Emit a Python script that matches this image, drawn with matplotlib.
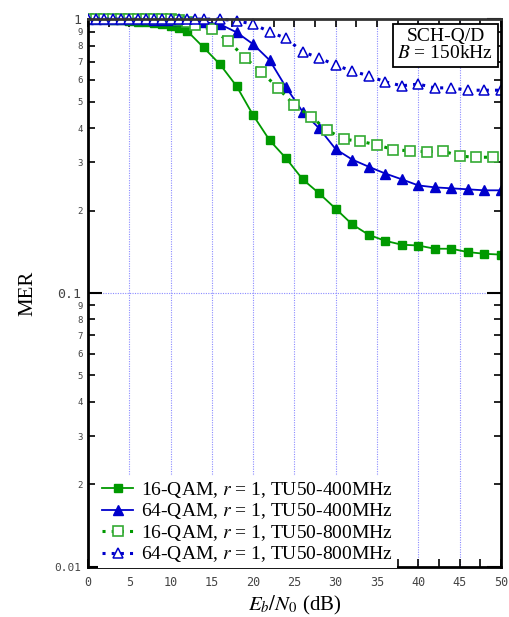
import matplotlib
matplotlib.use("Agg")
import matplotlib.pyplot as plt
from matplotlib.ticker import FixedLocator, FixedFormatter, MultipleLocator
from matplotlib.patches import Rectangle

plt.rcParams['mathtext.fontset'] = 'stix'
plt.rcParams['font.family'] = ['Liberation Serif', 'DejaVu Serif']

# ---- data ----
x_16_400 = list(range(0, 13)) + list(range(14, 51, 2))
y_16_400 = [1.0, 1.0, 1.0, 0.995, 0.99, 0.985, 0.98, 0.975, 0.968, 0.956, 0.945, 0.930, 0.906,
            0.788, 0.683, 0.569, 0.446, 0.361, 0.310, 0.260, 0.231, 0.203, 0.178, 0.163,
            0.155, 0.150, 0.149, 0.145, 0.145, 0.141, 0.139, 0.138]

x_64_400 = list(range(0, 15)) + list(range(16, 51, 2))
y_64_400 = [1.0, 1.0, 1.0, 1.0, 1.0, 1.0, 0.998, 0.997, 0.995, 0.993, 0.99, 0.99, 0.988, 0.985, 0.975,
            0.957, 0.895, 0.810, 0.708, 0.563, 0.459, 0.399, 0.335, 0.307, 0.289, 0.273,
            0.260, 0.247, 0.243, 0.241, 0.239, 0.237, 0.237]

x_16_800 = list(range(0, 14)) + list(range(15, 52, 2))
y_16_800 = [1.0, 1.0, 1.0, 1.0, 1.0, 1.0, 1.0, 1.0, 1.0, 1.0, 1.0, 0.995, 0.975, 0.951,
            0.917, 0.833, 0.722, 0.642, 0.561, 0.485, 0.440, 0.393, 0.364, 0.358, 0.347,
            0.334, 0.330, 0.328, 0.330, 0.316, 0.313, 0.313, 0.311]

x_64_800 = list(range(0, 15)) + list(range(16, 51, 2))
y_64_800 = [1.0] * 15 + [1.0, 0.986, 0.959, 0.899, 0.850, 0.759, 0.722, 0.679, 0.646, 0.621,
                         0.590, 0.571, 0.579, 0.561, 0.561, 0.550, 0.550, 0.550]

labels = ["16-QAM, $r$ = 1, TU50-400MHz", "64-QAM, $r$ = 1, TU50-400MHz",
          "16-QAM, $r$ = 1, TU50-800MHz", "64-QAM, $r$ = 1, TU50-800MHz"]

y_major = [0.01, 0.1, 1.0]
y_major_labels = ["0.01", "0.1", "1"]
x_major = [0, 5, 10, 15, 20, 25, 30, 35, 40, 45, 50]

# ---- figure ----
fig = plt.figure(figsize=(5.10, 6.17), dpi=100)
ax = fig.add_axes([0.1725, 0.0815, 0.8095, 0.8875])

green = '#009900'
lgreen = '#33aa33'
blue = '#0000cc'
dot = (0, (1, 2))

lines = []
lines += ax.plot(x_16_400, y_16_400, '-', color=green, lw=1.3, marker='s', ms=6,
                 mfc=green, mec=green, label=labels[0])
lines += ax.plot(x_64_400, y_64_400, '-', color=blue, lw=1.3, marker='^', ms=7,
                 mfc=blue, mec=blue, label=labels[1])
lines += ax.plot(x_16_800, y_16_800, linestyle=dot, color=green, lw=2.2, marker='s', ms=6.5,
                 mfc='white', mec=lgreen, mew=1.2, label=labels[2])
lines += ax.plot(x_64_800, y_64_800, linestyle=dot, color=blue, lw=2.2, marker='^', ms=7,
                 mfc='white', mec=blue, mew=1.1, label=labels[3])
for ln in lines:
    ln.set_clip_path(Rectangle((0, -0.05), 1.0, 1.1, transform=ax.transAxes))

ax.set_yscale('log')
ax.set_xlim(0, 50)
ax.set_ylim(0.01, 1.0)

# grid lines
for xv in x_major[1:-1]:
    ax.axvline(xv, color='#8c8cff', lw=0.8, linestyle=(0, (1, 1.2)), zorder=0)
ax.axhline(0.1, color='#8c8cff', lw=0.8, linestyle=(0, (1, 1.2)), zorder=0)

# ticks
ax.xaxis.set_major_locator(FixedLocator(x_major))
ax.xaxis.set_minor_locator(MultipleLocator(2.5))
ax.yaxis.set_major_locator(FixedLocator(y_major))
ax.yaxis.set_major_formatter(FixedFormatter(y_major_labels))
minor_vals = []
minor_labels = []
for dec in [0.01, 0.1]:
    for m in range(2, 10):
        minor_vals.append(dec * m)
        minor_labels.append(str(m))
ax.yaxis.set_minor_locator(FixedLocator(minor_vals))
ax.yaxis.set_minor_formatter(FixedFormatter(minor_labels))

tick_color = '#444444'
ax.tick_params(axis='both', which='both', direction='in', top=True, right=True, color='black')
ax.tick_params(axis='x', which='both', length=6, width=1.2, pad=7, labelsize=8.5,
               labelcolor=tick_color)
ax.tick_params(axis='y', which='major', length=10, width=1.5, pad=5, labelsize=9.5,
               labelcolor=tick_color)
ax.tick_params(axis='y', which='minor', length=5, width=1.2, pad=4, labelsize=6.5,
               labelcolor=tick_color)
for lab in ax.get_xticklabels() + ax.get_yticklabels() + ax.get_yticklabels(minor=True):
    lab.set_family('DejaVu Sans Mono')
ax.get_yticklabels()[0].set_fontsize(8)

for sp in ax.spines.values():
    sp.set_linewidth(2.0)
    sp.set_color('black')
ax.spines['top'].set_color('#333333')

ax.set_ylabel('MER', fontsize=15, labelpad=12)
ax.set_xlabel('$E_b/N_0$ (dB)', fontsize=15, labelpad=3)

leg = ax.legend(loc='lower left', bbox_to_anchor=(0.025, -0.003), fontsize=14,
                frameon=True, fancybox=False, edgecolor='none', facecolor='white',
                framealpha=1.0, handlelength=1.6, handletextpad=0.4, labelspacing=0.08,
                borderpad=0.2, borderaxespad=0.0)

ax.text(0.982, 0.983, 'SCH-Q/D\n$B$ = 150kHz', transform=ax.transAxes, ha='right', va='top',
        fontsize=14, multialignment='center', linespacing=1.0,
        bbox=dict(boxstyle='square,pad=0.25', facecolor='white', edgecolor='black', lw=1.3))

fig.savefig('out.png', dpi=100)
